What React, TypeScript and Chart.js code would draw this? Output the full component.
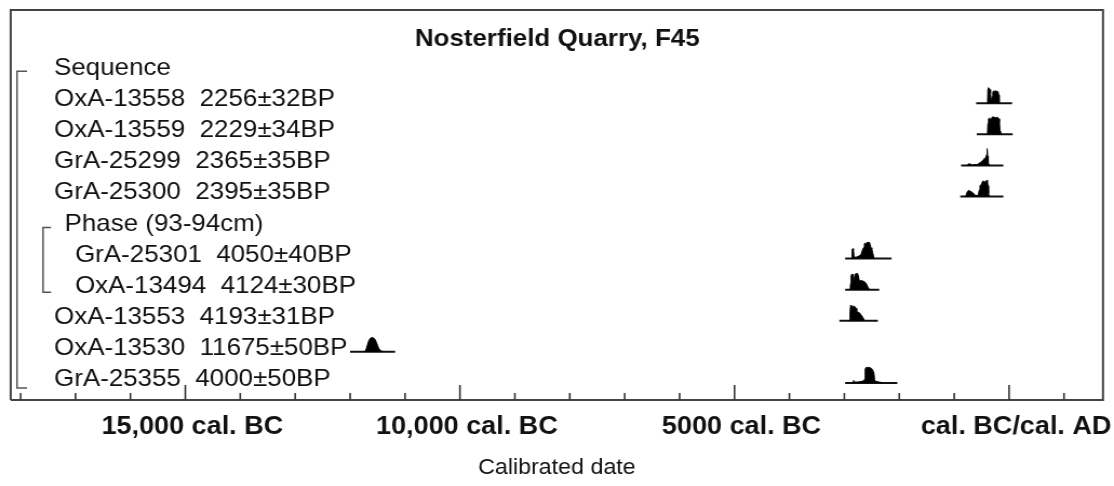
import { useEffect, useRef } from 'react';
import { Chart, registerables } from 'chart.js';

Chart.register(...registerables);

// ---- data ----
const chartTitle = 'Nosterfield Quarry, F45';
const axisTitle = 'Calibrated date';

const rowLabels = [
  'Sequence',
  'OxA-13558  2256±32BP',
  'OxA-13559  2229±34BP',
  'GrA-25299  2365±35BP',
  'GrA-25300  2395±35BP',
  'Phase (93-94cm)',
  'GrA-25301  4050±40BP',
  'OxA-13494  4124±30BP',
  'OxA-13553  4193±31BP',
  'OxA-13530  11675±50BP',
  'GrA-25355  4000±50BP',
];
const rowIndent = [0, 0, 0, 0, 0, 1, 2, 2, 0, 0, 0];

const minorTickYears = [
  -18000, -17000, -16000, -15000, -14000, -13000, -12000, -11000, -10000, -9000,
  -8000, -7000, -6000, -5000, -4000, -3000, -2000, -1000, 0, 1000,
];
const majorTickYears = [-15000, -10000, -5000, 0];
const majorTickLabels = ['15,000 cal. BC', '10,000 cal. BC', '5000 cal. BC', 'cal. BC/cal. AD'];
const xMin = -18180;
const xMax = 1710;

// [calendar year, relative probability]
const dOxA13558: [number, number][] = [
  [-400, 0], [-392, 0.05], [-387, 0.45], [-378, 0.5], [-362, 0.48], [-348, 0.44], [-338, 0.32],
  [-328, 0.12], [-316, 0.1], [-306, 0.22], [-296, 0.36], [-280, 0.4], [-260, 0.38], [-240, 0.4],
  [-220, 0.38], [-200, 0.37], [-188, 0.26], [-180, 0.05], [-170, 0],
];
const dOxA13559: [number, number][] = [
  [-395, 0], [-386, 0.35], [-375, 0.5], [-360, 0.52], [-345, 0.5], [-335, 0.45], [-325, 0.48],
  [-310, 0.55], [-290, 0.56], [-270, 0.55], [-250, 0.53], [-230, 0.54], [-210, 0.55],
  [-190, 0.5], [-176, 0.4], [-166, 0.1], [-156, 0],
];
const dGrA25299: [number, number][] = [
  [-760, 0], [-748, 0.04], [-722, 0.05], [-692, 0.03], [-670, 0.01], [-640, 0.02], [-580, 0.03],
  [-550, 0.06], [-520, 0.1], [-490, 0.14], [-460, 0.2], [-440, 0.24], [-420, 0.26], [-410, 0.35],
  [-405, 0.54], [-395, 0.52], [-390, 0.3], [-380, 0.1], [-366, 0.02], [-350, 0],
];
const dGrA25300: [number, number][] = [
  [-790, 0], [-776, 0.08], [-760, 0.16], [-740, 0.19], [-715, 0.18], [-690, 0.15], [-660, 0.12],
  [-640, 0.08], [-620, 0.04], [-590, 0.03], [-560, 0.05], [-545, 0.2], [-530, 0.34], [-515, 0.38],
  [-500, 0.4], [-485, 0.48], [-470, 0.5], [-455, 0.47], [-440, 0.45], [-420, 0.5], [-405, 0.52],
  [-395, 0.48], [-385, 0.35], [-375, 0.1], [-360, 0],
];
const dGrA25301: [number, number][] = [
  [-2870, 0], [-2861, 0.05], [-2856, 0.3], [-2845, 0.32], [-2835, 0.28], [-2825, 0.1],
  [-2810, 0.04], [-2790, 0.04], [-2770, 0.06], [-2740, 0.08], [-2715, 0.1], [-2695, 0.14],
  [-2680, 0.22], [-2665, 0.3], [-2650, 0.35], [-2635, 0.48], [-2620, 0.5], [-2605, 0.45],
  [-2590, 0.52], [-2575, 0.53], [-2560, 0.5], [-2545, 0.53], [-2530, 0.45], [-2515, 0.35],
  [-2500, 0.3], [-2485, 0.2], [-2470, 0.08], [-2455, 0],
];
const dOxA13494: [number, number][] = [
  [-2895, 0], [-2886, 0.2], [-2876, 0.45], [-2865, 0.5], [-2850, 0.48], [-2840, 0.5],
  [-2830, 0.3], [-2820, 0.35], [-2805, 0.5], [-2790, 0.52], [-2775, 0.5], [-2760, 0.52],
  [-2745, 0.45], [-2730, 0.3], [-2710, 0.28], [-2690, 0.3], [-2670, 0.28], [-2650, 0.27],
  [-2630, 0.25], [-2610, 0.22], [-2590, 0.15], [-2570, 0.08], [-2550, 0.02], [-2540, 0],
];
const dOxA13553: [number, number][] = [
  [-2905, 0], [-2896, 0.3], [-2885, 0.5], [-2870, 0.48], [-2860, 0.3], [-2850, 0.42],
  [-2835, 0.48], [-2820, 0.46], [-2805, 0.45], [-2790, 0.4], [-2775, 0.3], [-2760, 0.28],
  [-2740, 0.27], [-2720, 0.25], [-2700, 0.2], [-2680, 0.15], [-2660, 0.1], [-2640, 0.03],
  [-2630, 0],
];
const dOxA13530: [number, number][] = [
  [-11740, 0], [-11720, 0.04], [-11700, 0.12], [-11680, 0.25], [-11660, 0.36], [-11640, 0.42],
  [-11620, 0.45], [-11600, 0.46], [-11580, 0.45], [-11560, 0.43], [-11540, 0.38], [-11520, 0.3],
  [-11500, 0.2], [-11480, 0.12], [-11460, 0.07], [-11440, 0.04], [-11420, 0.02], [-11400, 0],
];
const dGrA25355: [number, number][] = [
  [-2860, 0], [-2842, 0.02], [-2832, 0.08], [-2820, 0.02], [-2800, 0.03], [-2760, 0.03],
  [-2720, 0.04], [-2680, 0.05], [-2650, 0.07], [-2630, 0.12], [-2620, 0.45], [-2600, 0.5],
  [-2580, 0.5], [-2560, 0.49], [-2540, 0.5], [-2520, 0.48], [-2500, 0.45], [-2480, 0.4],
  [-2460, 0.3], [-2450, 0.1], [-2430, 0.05], [-2400, 0.04], [-2370, 0.03], [-2340, 0.02],
  [-2300, 0],
];

const distributionRows = [1, 2, 3, 4, 6, 7, 8, 9, 10];
const distributionPoints = [
  dOxA13558, dOxA13559, dGrA25299, dGrA25300, dGrA25301, dOxA13494, dOxA13553, dOxA13530, dGrA25355,
];
const distributionRanges: [number, number][] = [
  [-600, 55], [-590, 65], [-875, -105], [-890, -105], [-2985, -2140],
  [-2985, -2365], [-3090, -2390], [-12000, -11180], [-2985, -2035],
];

// bracket spans [first row, last row]
const sequenceSpan: [number, number] = [-0.03, 10.16];
const phaseSpan: [number, number] = [0 + 5, 7.08];

// ---- layout ----
const STRETCH = 1.08;
const FULL_W = 1114;
const FULL_H = 486;
const CANVAS_W = Math.round(FULL_W / STRETCH);
const FONT = '"Liberation Sans", Arial, Helvetica, sans-serif';

export default function App() {
  const ref = useRef<HTMLCanvasElement>(null);

  useEffect(() => {
    const canvas = ref.current;
    if (!canvas) return;
    const S = STRETCH;

    const datasets: any[] = [];
    distributionRows.forEach((row, k) => {
      datasets.push({
        type: 'line',
        data: distributionPoints[k].map(([x, d]) => ({ x, y: row - d })),
        borderColor: '#000',
        backgroundColor: '#000',
        borderWidth: 1,
        pointRadius: 0,
        tension: 0,
        fill: { value: row },
      });
      datasets.push({
        type: 'line',
        data: distributionRanges[k].map((x) => ({ x, y: row })),
        borderColor: '#111',
        borderWidth: 2,
        pointRadius: 0,
        fill: false,
      });
    });

    const decor = {
      id: 'oxcalDecor',
      afterDraw(chart: any) {
        const { ctx, chartArea } = chart;
        const xs = chart.scales.x;
        const ys = chart.scales.y;
        const { left, right, top, bottom } = chartArea;
        ctx.save();
        // frame
        ctx.strokeStyle = '#444';
        ctx.lineWidth = 2;
        ctx.beginPath();
        ctx.moveTo(left, bottom);
        ctx.lineTo(left, top);
        ctx.lineTo(right, top);
        ctx.lineTo(right, bottom);
        ctx.lineTo(left, bottom);
        ctx.stroke();
        // ticks (inward)
        ctx.lineWidth = 1.6;
        ctx.strokeStyle = '#333';
        minorTickYears.forEach((v) => {
          const px = xs.getPixelForValue(v);
          const len = majorTickYears.includes(v) ? 15 : 7;
          ctx.beginPath();
          ctx.moveTo(px, bottom);
          ctx.lineTo(px, bottom - len);
          ctx.stroke();
        });
        // brackets
        ctx.strokeStyle = '#555';
        ctx.lineWidth = 1.5;
        const bracket = (x0: number, x1: number, span: [number, number]) => {
          const y0 = ys.getPixelForValue(span[0]);
          const y1 = ys.getPixelForValue(span[1]);
          ctx.beginPath();
          ctx.moveTo(x1 / S, y0);
          ctx.lineTo(x0 / S, y0);
          ctx.lineTo(x0 / S, y1);
          ctx.lineTo(x1 / S, y1);
          ctx.stroke();
        };
        bracket(17, 27, sequenceSpan);
        bracket(43, 51, phaseSpan);
        // row labels
        ctx.fillStyle = '#111';
        ctx.font = `24px ${FONT}`;
        ctx.textAlign = 'left';
        ctx.textBaseline = 'alphabetic';
        const indentX = [54, 64.5, 75];
        rowLabels.forEach((lab, i) => {
          ctx.fillText(lab, indentX[rowIndent[i]] / S, ys.getPixelForValue(i) + 3);
        });
        // title
        ctx.font = `bold 24px ${FONT}`;
        ctx.textAlign = 'center';
        ctx.textBaseline = 'middle';
        ctx.fillText(chartTitle, 557 / S, 39);
        ctx.restore();
      },
    };

    const chart = new Chart(canvas, {
      type: 'line',
      data: { datasets },
      options: {
        animation: false,
        responsive: false,
        maintainAspectRatio: false,
        layout: { padding: { left: 10.7 / S, right: (FULL_W - 1103) / S, top: 10, bottom: 0 } },
        plugins: {
          legend: { display: false },
          tooltip: { enabled: false },
          title: { display: false },
        },
        scales: {
          x: {
            type: 'linear',
            position: 'bottom',
            min: xMin,
            max: xMax,
            afterBuildTicks: (s: any) => {
              s.ticks = majorTickYears.map((v) => ({ value: v }));
            },
            afterFit: (s: any) => {
              s.height = FULL_H - 400;
              s.paddingLeft = 0;
              s.paddingRight = 0;
            },
            grid: { display: false, drawTicks: false },
            border: { display: false },
            ticks: {
              autoSkip: false,
              maxRotation: 0,
              minRotation: 0,
              padding: 12,
              labelOffset: 7 / S,
              color: '#111',
              font: { family: FONT, size: 25, weight: 'bold' },
              callback: (v: any) => {
                const i = majorTickYears.indexOf(Number(v));
                return i >= 0 ? majorTickLabels[i] : '';
              },
            },
            title: {
              display: true,
              text: axisTitle,
              color: '#111',
              font: { family: FONT, size: 21.5 },
              padding: { top: 0, bottom: 5 },
            },
          },
          y: {
            type: 'linear',
            display: false,
            reverse: true,
            min: -2,
            max: 10.55,
          },
        },
      } as any,
      plugins: [decor],
    });
    return () => chart.destroy();
  }, []);

  return (
    <div style={{ position: 'fixed', left: 0, top: 0, width: FULL_W, height: FULL_H, background: '#fff' }}>
      <canvas
        ref={ref}
        width={CANVAS_W}
        height={FULL_H}
        style={{ width: `${FULL_W}px`, height: `${FULL_H}px`, display: 'block' }}
      />
    </div>
  );
}
